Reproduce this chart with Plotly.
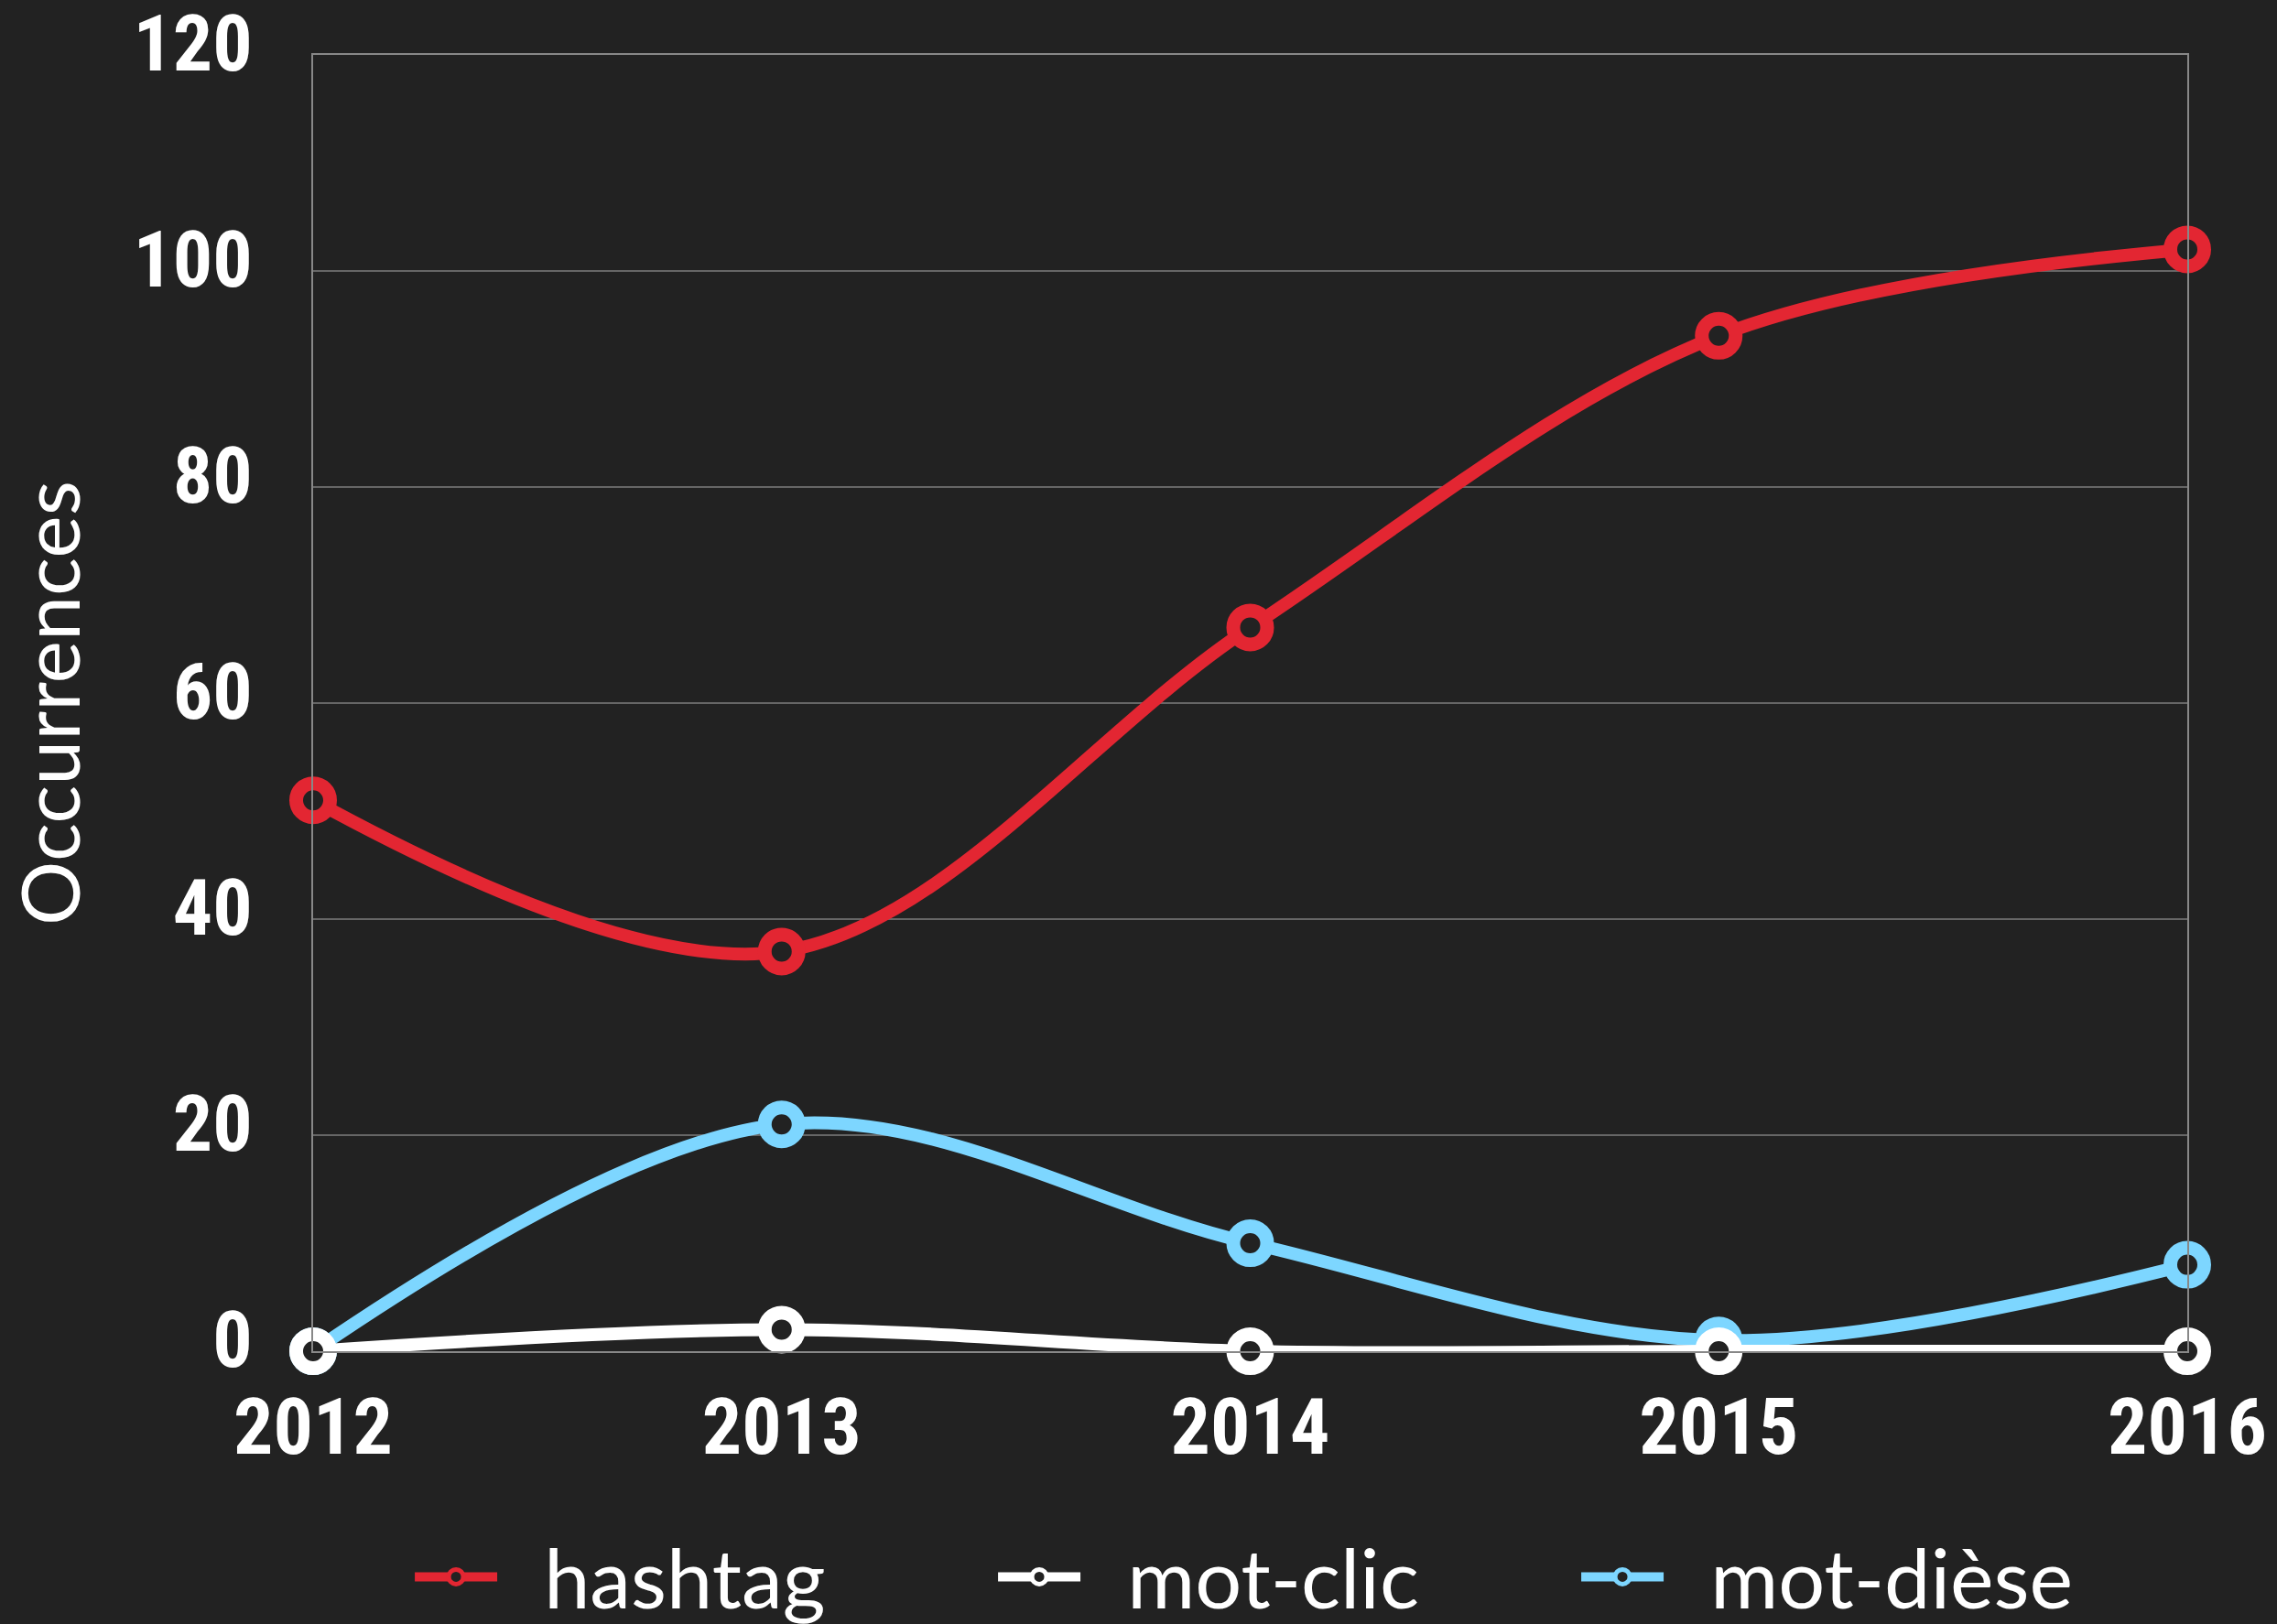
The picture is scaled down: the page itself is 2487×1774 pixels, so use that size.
import plotly.graph_objects as go

years = [2012, 2013, 2014, 2015, 2016]
hashtag = [51, 37, 67, 94, 102]
mot_clic = [0, 2, 0, 0, 0]
mot_diese = [0, 21, 10, 1, 8]
series_names = ["hashtag", "mot-clic", "mot-dièse"]
series_values = [hashtag, mot_clic, mot_diese]
series_colors = ["#E32632", "#FFFFFF", "#7DD6FF"]
draw_order = [0, 2, 1]  # white series drawn on top, as in the reference
y_ticks = [0, 20, 40, 60, 80, 100, 120]

BG = "#222222"
TICK_FONT = dict(family="Roboto Condensed, DejaVu Sans Condensed, sans-serif",
                 size=86, color="white", weight=700)
PAD = "\u00a0\u00a0"

fig = go.Figure()
for i in draw_order:
    col = series_colors[i]
    fig.add_trace(go.Scatter(
        x=years, y=series_values[i], name=PAD + series_names[i], mode="lines+markers",
        legendrank=i + 1,
        line=dict(color=col, width=14, shape="spline", smoothing=1),
        marker=dict(size=37, color=BG, line=dict(color=col, width=15)),
        cliponaxis=False,
    ))

fig.update_layout(
    width=2487, height=1774,
    paper_bgcolor=BG, plot_bgcolor=BG,
    margin=dict(l=342, r=98, t=60, b=298, autoexpand=False),
    showlegend=True,
    legend=dict(orientation="h", x=0.5186, xanchor="center", y=-0.174, yanchor="middle",
                font=dict(family="Lato, sans-serif", size=90, color="white"),
                entrywidth=532, entrywidthmode="pixels", itemwidth=90,
                traceorder="normal", bgcolor="rgba(0,0,0,0)"),
    xaxis=dict(range=[2012, 2016], tickvals=years, ticktext=[str(y) for y in years],
               showgrid=False, zeroline=False, showline=True, linecolor="#888888",
               linewidth=2, mirror=True, ticks="", tickfont=TICK_FONT,
               ticklabelstandoff=7, ticklabeloverflow="allow"),
    yaxis=dict(range=[0, 120], tickvals=y_ticks, showgrid=True, gridcolor="#666666",
               gridwidth=2, zeroline=False, showline=True, linecolor="#888888",
               linewidth=2, mirror=True, ticks="", tickfont=TICK_FONT,
               ticklabelstandoff=47, ticklabelshift=-13, ticklabeloverflow="allow",
               title=dict(text="Occurrences", standoff=30,
                          font=dict(family="Lato, sans-serif", size=88, color="white", weight=400))),
)

fig.write_html("out.html", config={"displayModeBar": False},
               post_script="document.body.style.margin='0';")
